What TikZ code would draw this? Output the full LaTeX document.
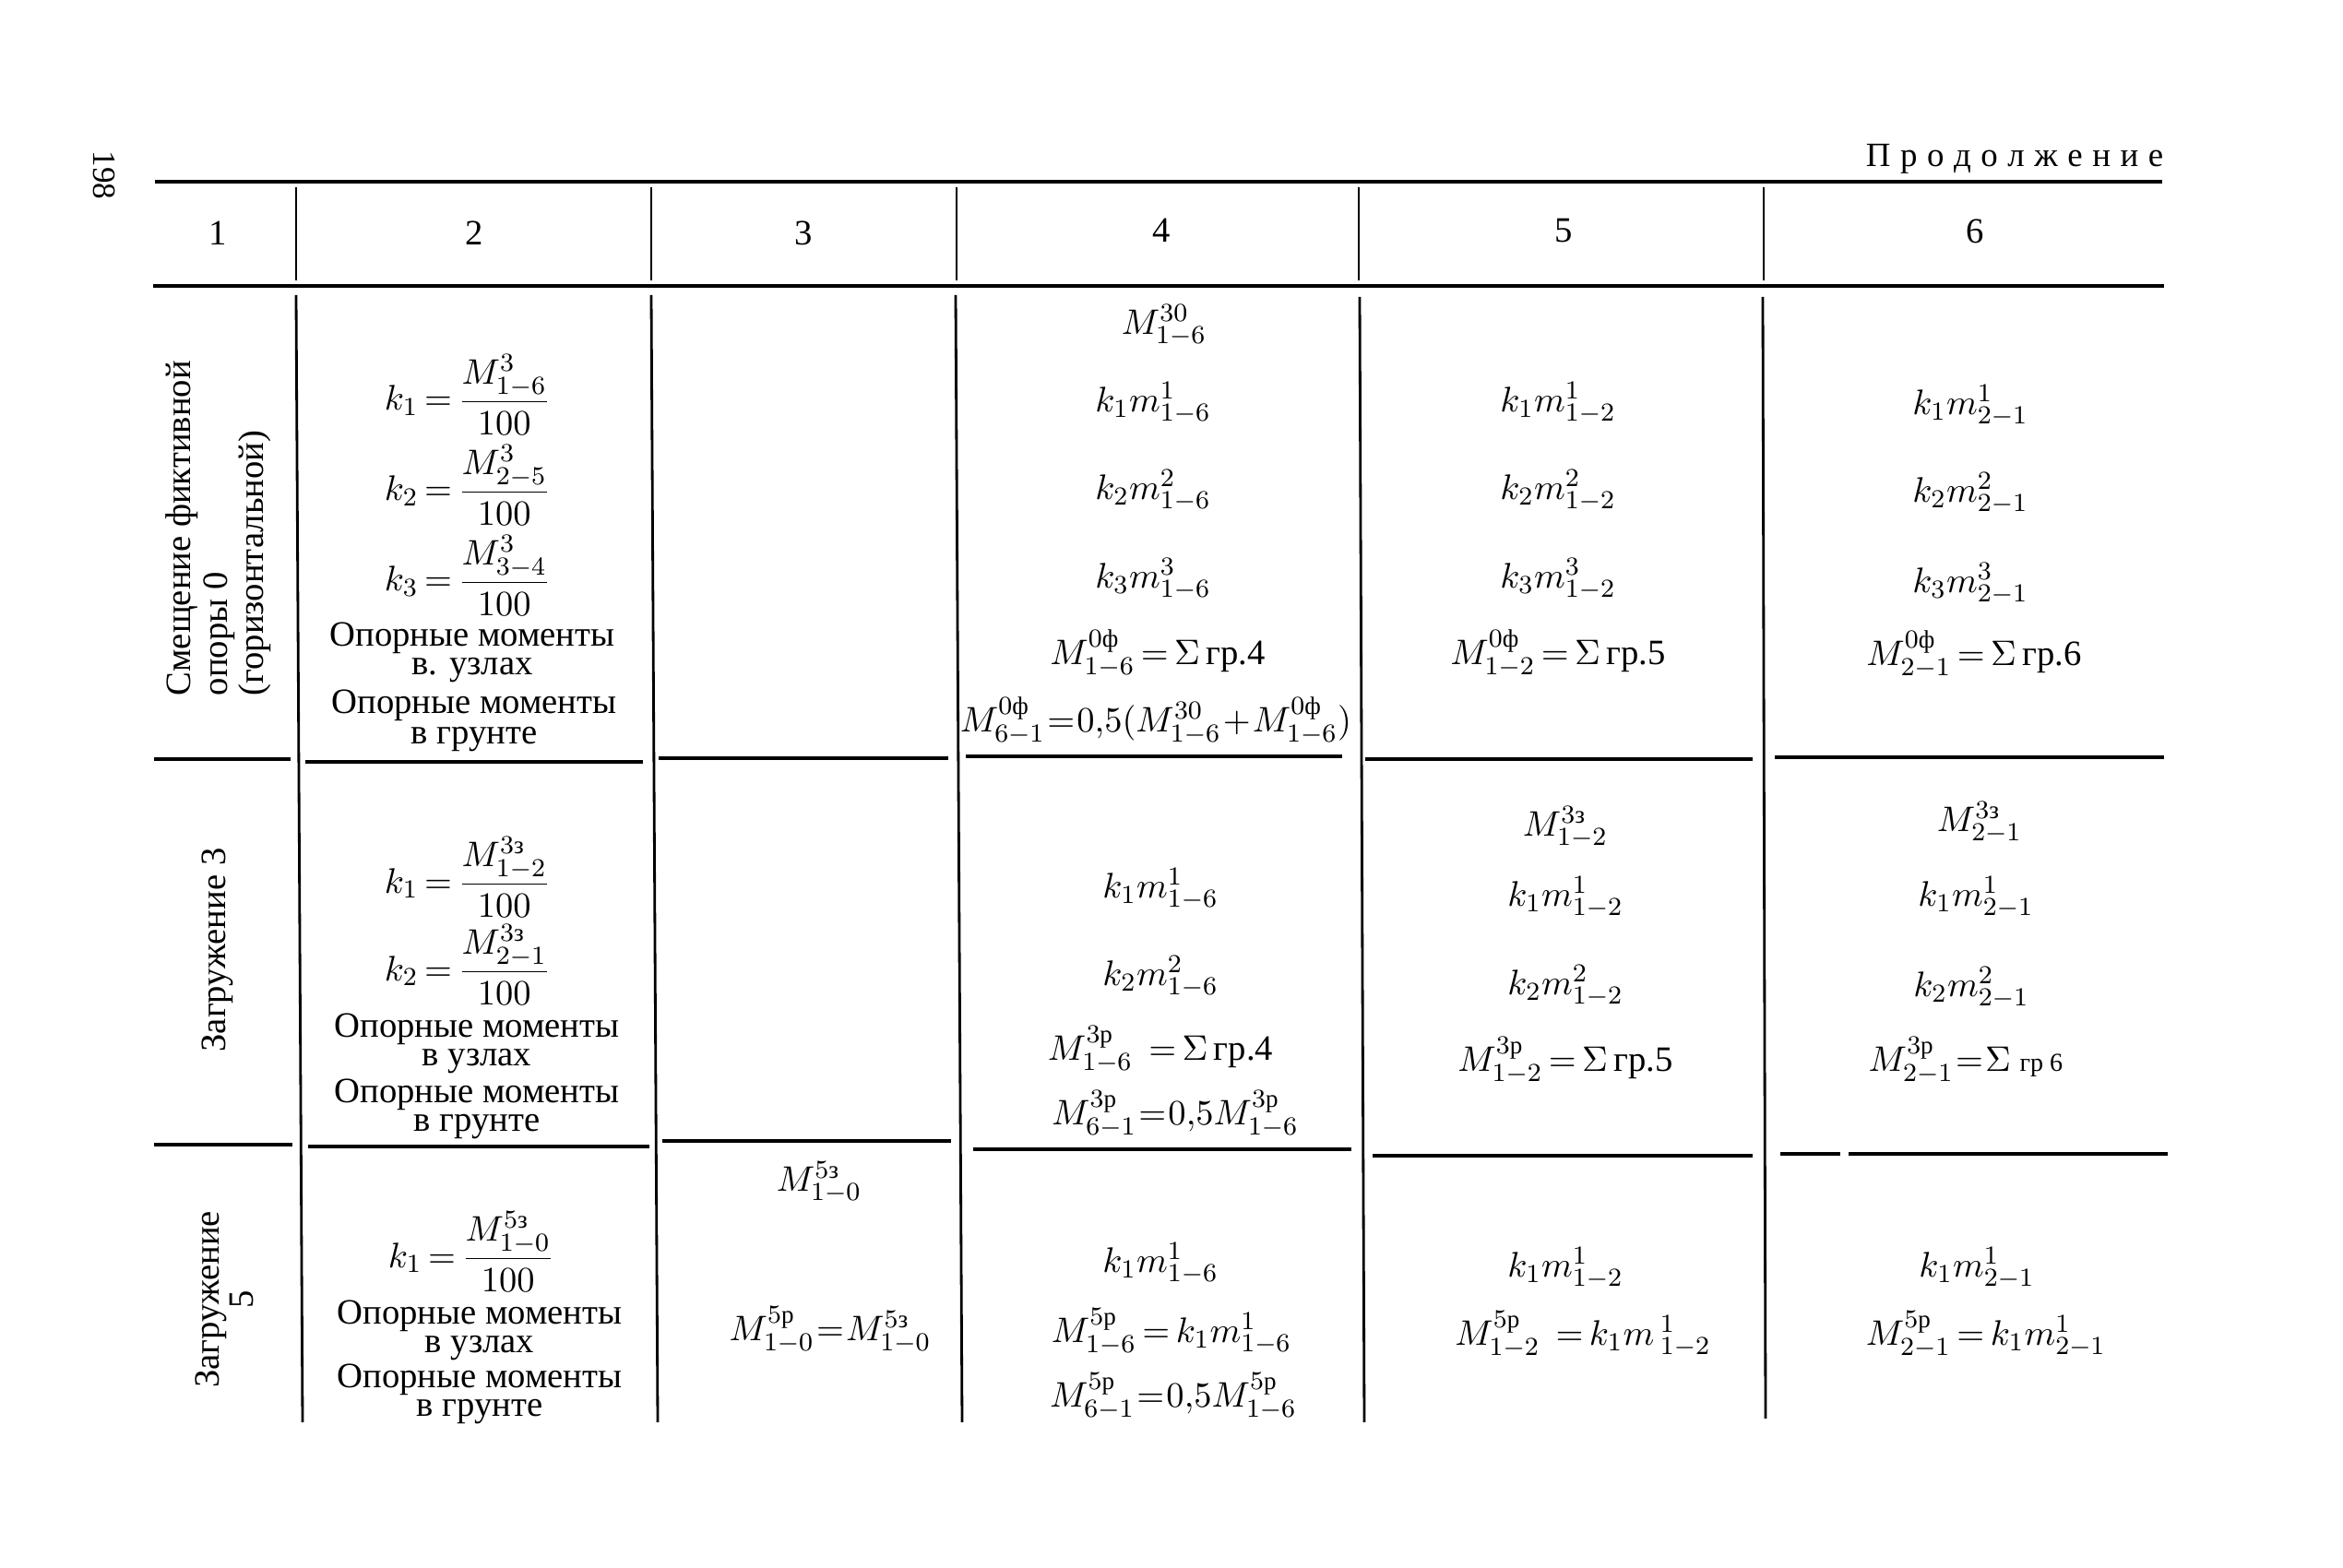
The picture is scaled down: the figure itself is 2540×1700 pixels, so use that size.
\documentclass[tikz,border=0pt]{standalone}
\usepackage{amsmath}
\usepackage{fontspec}
\setmainfont{Liberation Serif}
\newcommand\zzz{\text{з}}
\newcommand\rrr{\text{р}}
\newcommand\fff{\text{ф}}
\newcommand\eqq{\mskip-2mu=\mskip-2mu}
\newcommand\eqt{\mskip-4mu=\mskip-4mu}
\tikzset{
  t/.style={inner sep=0pt, font=\fontsize{11}{13}\selectfont},
  rot/.style={t, rotate=90},
  rule/.style={line width=1.1pt},
  rowrule/.style={line width=1.0pt},
  vrule/.style={line width=0.8pt}
}
\begin{document}
\begin{tikzpicture}[x=0.1mm,y=-0.1mm]
\useasboundingbox[fill=white] (0,0) rectangle (2540,1700);

% page number and title
\node[t, rotate=-90, font=\fontsize{10}{12}\selectfont] (pg) at (113,190) {198};
\node[t, anchor=east, font=\fontsize{10.5}{12}\selectfont] (title) at (2346,172)
  {П\hspace{3pt}р\hspace{3pt}о\hspace{3pt}д\hspace{3pt}о\hspace{3pt}л\hspace{3pt}ж\hspace{3pt}е\hspace{3pt}н\hspace{3pt}и\hspace{3pt}е};

% header rules
\draw[rule] (168,197) -- (2344,197);
\draw[rule] (166,310) -- (2346,310);
% header verticals
\foreach \xx in {321,706,1037,1473,1912} \draw[vrule] (\xx,203) -- (\xx,304);

% body verticals
\draw[vrule] (321,320) -- (328,1542);
\draw[vrule] (706,320) -- (713,1542);
\draw[vrule] (1036,320) -- (1043,1542);
\draw[vrule] (1474,322) -- (1479,1542);
\draw[vrule] (1911,322) -- (1914,1538);

% row rules 1/2
\draw[rowrule] (167,823) -- (315,823);
\draw[rowrule] (331,826) -- (697,826);
\draw[rowrule] (714,822) -- (1028,822);
\draw[rowrule] (1047,820) -- (1455,820);
\draw[rowrule] (1480,823) -- (1900,823);
\draw[rowrule] (1924,821) -- (2346,821);
% row rules 2/3
\draw[rowrule] (167,1241) -- (317,1241);
\draw[rowrule] (334,1243) -- (704,1243);
\draw[rowrule] (718,1237) -- (1031,1237);
\draw[rowrule] (1055,1246) -- (1465,1246);
\draw[rowrule] (1488,1253) -- (1900,1253);
\draw[rowrule] (1930,1251) -- (1995,1251);
\draw[rowrule] (2004,1251) -- (2350,1251);

% header numbers
\node[t] (h1) at (236,253) {1};
\node[t] (h2) at (514,253) {2};
\node[t] (h3) at (871,253) {3};
\node[t] (h4) at (1259,250) {4};
\node[t] (h5) at (1695,250) {5};
\node[t] (h6) at (2141,251) {6};

% ---------- row 1 ----------
\node[rot, anchor=west] (a1) at (197,755) {Смещение фиктивной};
\node[rot, anchor=west] (a2) at (238,755) {опоры 0};
\node[rot, anchor=west] (a3) at (276,755) {(горизонтальной)};

\node[t] (b1k1) at (507,428) {$k_1\eqq\dfrac{M^{3}_{1-6}}{100}$};
\node[t] (b1k2) at (507,526) {$k_2\eqq\dfrac{M^{3}_{2-5}}{100}$};
\node[t] (b1k3) at (507,624) {$k_3\eqq\dfrac{M^{3}_{3-4}}{100}$};
\node[t] (b1o1) at (512,692) {Опорные моменты};
\node[t] (b1o2) at (512,727) {в. узлах};
\node[t] (b1o3) at (514,765) {Опорные моменты};
\node[t] (b1o4) at (514,802) {в грунте};

\node[t] (d1a) at (1262,353) {$M^{30}_{1-6}$};
\node[t] (d1b) at (1250,437) {$k_1m^1_{1-6}$};
\node[t] (d1c) at (1250,532) {$k_2m^2_{1-6}$};
\node[t] (d1d) at (1250,628) {$k_3m^3_{1-6}$};
\node[t] (d1e) at (1255,709) {$M^{0\fff}_{1-6}\eqq\Sigma\,\text{гр.4}$};
\node[t] (d1f) at (1253,782) {$M^{0\fff}_{6-1}\eqt0{,}5(M^{30}_{1-6}\mskip-3mu+\mskip-3mu M^{0\fff}_{1-6})$};

\node[t] (e1b) at (1689,437) {$k_1m^1_{1-2}$};
\node[t] (e1c) at (1689,532) {$k_2m^2_{1-2}$};
\node[t] (e1d) at (1689,628) {$k_3m^3_{1-2}$};
\node[t] (e1e) at (1689,709) {$M^{0\fff}_{1-2}\eqq\Sigma\,\text{гр.5}$};

\node[t] (f1b) at (2136,440) {$k_1m^1_{2-1}$};
\node[t] (f1c) at (2136,535) {$k_2m^2_{2-1}$};
\node[t] (f1d) at (2136,633) {$k_3m^3_{2-1}$};
\node[t] (f1e) at (2140,710) {$M^{0\fff}_{2-1}\eqq\Sigma\,\text{гр.6}$};

% ---------- row 2 ----------
\node[rot] (a4) at (236,1030) {Загружение 3};

\node[t] (b2k1) at (507,951) {$k_1\eqq\dfrac{M^{3\zzz}_{1-2}}{100}$};
\node[t] (b2k2) at (507,1046) {$k_2\eqq\dfrac{M^{3\zzz}_{2-1}}{100}$};
\node[t] (b2o1) at (517,1116) {Опорные моменты};
\node[t] (b2o2) at (517,1151) {в узлах};
\node[t] (b2o3) at (517,1187) {Опорные моменты};
\node[t] (b2o4) at (517,1222) {в грунте};

\node[t] (d2a) at (1258,964) {$k_1m^1_{1-6}$};
\node[t] (d2b) at (1258,1059) {$k_2m^2_{1-6}$};
\node[t] (d2c) at (1258,1138) {$M^{3\rrr}_{1-6}\;\eqq\Sigma\,\text{гр.4}$};
\node[t] (d2d) at (1274,1208) {$M^{3\rrr}_{6-1}\eqt0{,}5M^{3\rrr}_{1-6}$};

\node[t] (e2a) at (1697,897) {$M^{3\zzz}_{1-2}$};
\node[t] (e2b) at (1697,973) {$k_1m^1_{1-2}$};
\node[t] (e2c) at (1697,1069) {$k_2m^2_{1-2}$};
\node[t] (e2d) at (1697,1150) {$M^{3\rrr}_{1-2}\eqq\Sigma\,\text{гр.5}$};

\node[t] (f2a) at (2146,892) {$M^{3\zzz}_{2-1}$};
\node[t] (f2b) at (2142,973) {$k_1m^1_{2-1}$};
\node[t] (f2c) at (2137,1071) {$k_2m^2_{2-1}$};
\node[t] (f2d) at (2131,1150) {$M^{3\rrr}_{2-1}\eqt\Sigma\ \mbox{\footnotesize гр 6}$};

% ---------- row 3 ----------
\node[rot, align=center, font=\fontsize{11}{10.5}\selectfont] (a5) at (243,1409) {Загружение\\5};

\node[t] (b3k1) at (511,1357) {$k_1\eqq\dfrac{M^{5\zzz}_{1-0}}{100}$};
\node[t] (b3o1) at (520,1427) {Опорные моменты};
\node[t] (b3o2) at (520,1462) {в узлах};
\node[t] (b3o3) at (520,1496) {Опорные моменты};
\node[t] (b3o4) at (520,1531) {в грунте};

\node[t] (c3a) at (888,1282) {$M^{5\zzz}_{1-0}$};
\node[t] (c3b) at (900,1442) {$M^{5\rrr}_{1-0}\eqt M^{5\zzz}_{1-0}$};

\node[t] (d3a) at (1258,1370) {$k_1m^1_{1-6}$};
\node[t] (d3b) at (1270,1444) {$M^{5\rrr}_{1-6}\eqq k_1m^1_{1-6}$};
\node[t] (d3c) at (1272,1514) {$M^{5\rrr}_{6-1}\eqt0{,}5M^{5\rrr}_{1-6}$};

\node[t] (e3a) at (1697,1375) {$k_1m^1_{1-2}$};
\node[t] (e3b) at (1716,1447) {$M^{5\rrr}_{1-2}\;\eqq k_1m\,{}^{1}_{1-2}$};

\node[t] (f3a) at (2143,1375) {$k_1m^1_{2-1}$};
\node[t] (f3b) at (2153,1447) {$M^{5\rrr}_{2-1}\eqq k_1m{}^{1}_{2-1}$};
\end{tikzpicture}
\end{document}
